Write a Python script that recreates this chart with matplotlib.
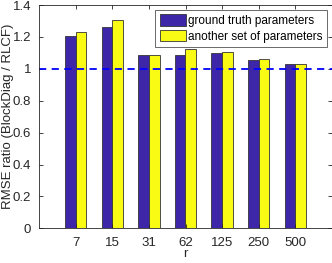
import matplotlib
matplotlib.use('Agg')
import matplotlib.pyplot as plt
import numpy as np

plt.rcParams['font.family'] = ['Liberation Sans', 'DejaVu Sans']

r_labels = ['7', '15', '31', '62', '125', '250', '500']
gt_params = [1.206, 1.263, 1.088, 1.088, 1.098, 1.053, 1.028]
other_params = [1.228, 1.305, 1.088, 1.127, 1.106, 1.060, 1.033]

fig = plt.figure(figsize=(3.32, 2.63), dpi=100)
ax = fig.add_axes([39.3 / 332, 1 - 228.3 / 263, (331.7 - 39.3) / 332, (228.3 - 5) / 263])

x = np.arange(1, len(r_labels) + 1)
w = 0.29
ax.bar(x - w / 2, gt_params, w, color='#3E26A8', edgecolor='#333333', linewidth=0.6,
       label='ground truth parameters')
ax.bar(x + w / 2, other_params, w, color='#F9FB15', edgecolor='#333333', linewidth=0.6,
       label='another set of parameters')
ax.axhline(1, color='#0000FF', linestyle='--', linewidth=1.3, dashes=(4, 3))

ax.set_xlim(0, 8)
ax.set_ylim(0, 1.4)
ax.set_xticks(x)
ax.set_xticklabels(r_labels)
ax.set_yticks(np.arange(0, 1.41, 0.2))
ax.set_yticklabels(['0', '0.2', '0.4', '0.6', '0.8', '1', '1.2', '1.4'])
ax.tick_params(direction='in', length=3, width=0.6, colors='#262626', labelsize=9.5,
               top=True, right=True, pad=6)
for s in ax.spines.values():
    s.set_color('#262626')
    s.set_linewidth(0.6)
ax.set_xlabel('r', fontsize=9.5, color='#262626')
ax.set_ylabel('RMSE ratio (BlockDiag / RLCF)', fontsize=9.5, color='#262626')
ax.xaxis.set_label_coords(0.5, -0.086)
ax.yaxis.set_label_coords(-0.087, 0.5)

leg = ax.legend(loc='upper right', fontsize=8.5, frameon=True, fancybox=False,
                edgecolor='#262626', borderpad=0.4, handlelength=2.2, handleheight=1.1,
                handletextpad=0.15, labelspacing=0.25, borderaxespad=0.4)
leg.get_frame().set_linewidth(0.6)

fig.savefig('out.png', dpi=100)
